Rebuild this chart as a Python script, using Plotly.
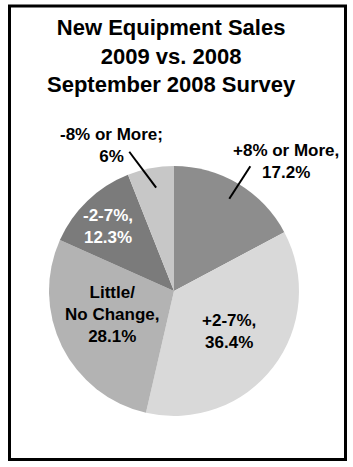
import math
import plotly.graph_objects as go

W, H = 353, 467

# ---- data ----
categories = ["+8% or More", "+2-7%", "Little/<br>No Change", "-2-7%", "-8% or More"]
values = [17.2, 36.4, 28.1, 12.3, 6]
value_labels = ["17.2%", "36.4%", "28.1%", "12.3%", "6%"]
separators = [",", ",", ",", ",", ";"]
colors = ["#8d8d8d", "#d9d9d9", "#b3b3b3", "#7b7b7b", "#c7c7c7"]
text_colors = ["black", "black", "black", "white", "black"]
title_lines = ["New Equipment Sales", "2009 vs. 2008", "September 2008 Survey"]

# ---- geometry (pixels) ----
cx, cy, R = 174.0, 291.0, 125.0
FONT = "Liberation Sans, Arial, sans-serif"

def px(x):
    return x / W

def py(y):
    return 1 - y / H

# label centres (pixels) and leader lines info
label_pos = [(286, 162), (229, 331), (112, 314), (108, 226), (111, 145)]
leader = {0: (0.86, 0.0, 1.17, 0.5), 4: (0.84, 1.0, 1.17, -7.0)}

fig = go.Figure()
fig.add_trace(go.Pie(
    labels=categories,
    values=values,
    sort=False,
    direction="clockwise",
    rotation=0,
    marker=dict(colors=colors, line=dict(width=0)),
    textinfo="none",
    hoverinfo="none",
    showlegend=False,
    domain=dict(x=[px(cx - R), px(cx + R)], y=[py(cy + R), py(cy - R)]),
))

annotations = []
# title
annotations.append(dict(
    text="<br>".join(title_lines),
    x=px(171), y=py(12.5), xref="paper", yref="paper",
    xanchor="center", yanchor="top", showarrow=False,
    font=dict(family=FONT, size=22, color="black", weight="bold"),
))

# slice labels
for i, cat in enumerate(categories):
    lx, ly = label_pos[i]
    annotations.append(dict(
        text=f"{cat}{separators[i]}<br>{value_labels[i]}",
        x=px(lx), y=py(ly), xref="paper", yref="paper",
        xanchor="center", yanchor="middle", showarrow=False,
        font=dict(family=FONT, size=17, color=text_colors[i], weight="bold"),
    ))

shapes = []
# leader lines computed from slice mid-angles
total = sum(values)
cum = 0.0
for i, v in enumerate(values):
    mid = (cum + v / 2) / total * 360.0
    cum += v
    if i in leader:
        r0, da0, r1, da1 = leader[i]
        a0 = math.radians(mid + da0)
        a1 = math.radians(mid + da1)
        x0 = cx + r0 * R * math.sin(a0)
        y0 = cy - r0 * R * math.cos(a0)
        x1 = cx + r1 * R * math.sin(a1)
        y1 = cy - r1 * R * math.cos(a1)
        shapes.append(dict(type="line", xref="paper", yref="paper",
                           x0=px(x0), y0=py(y0), x1=px(x1), y1=py(y1),
                           line=dict(color="black", width=2)))

# outer frame
shapes.append(dict(type="rect", xref="paper", yref="paper",
                   x0=px(9.5), x1=px(345.5), y0=py(459.5), y1=py(6),
                   line=dict(color="black", width=3)))

fig.update_layout(
    width=W, height=H,
    margin=dict(l=0, r=0, t=0, b=0),
    paper_bgcolor="white",
    plot_bgcolor="white",
    annotations=annotations,
    shapes=shapes,
)

fig.write_html("out.html")
